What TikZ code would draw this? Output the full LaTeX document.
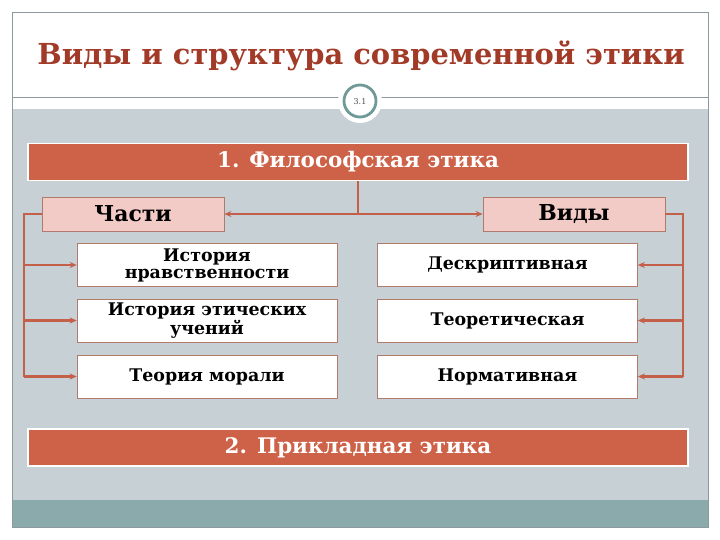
\documentclass[tikz,border=0pt]{standalone}
\usepackage{fontspec}
\setmainfont{DejaVu Serif}
\usetikzlibrary{arrows.meta}
\definecolor{titlec}{HTML}{A23A28}
\definecolor{bandc}{HTML}{CD6248}
\definecolor{bodyc}{HTML}{C6D0D5}
\definecolor{footc}{HTML}{8BAAAB}
\definecolor{pinkc}{HTML}{F2CAC6}
\definecolor{linec}{HTML}{C4604A}
\definecolor{framec}{HTML}{8C9A9E}
\definecolor{ringc}{HTML}{6F9A98}
\definecolor{boxline}{HTML}{B07A6C}
\begin{document}
\begin{tikzpicture}[x=1bp,y=-1bp,
  band/.style={rectangle, fill=bandc, draw=white, line width=1.5bp, minimum width=660bp, minimum height=37bp, text=white, inner sep=0pt, font=\bfseries\fontsize{21.5}{23}\selectfont},
  head/.style={rectangle, fill=pinkc, draw=boxline, line width=0.8bp, minimum width=182bp, minimum height=34bp, inner sep=0pt, font=\bfseries\fontsize{22}{24}\selectfont},
  item/.style={rectangle, fill=white, draw=boxline, line width=0.6bp, minimum width=260bp, minimum height=43bp, inner sep=0pt, align=center, font=\bfseries\fontsize{17.5}{17}\selectfont},
  conn/.style={draw=linec, line width=2.2bp},
  arr/.style={conn, -{Stealth[length=7bp,width=6bp]}}
]
\useasboundingbox (0,0) rectangle (720,540);
\fill[white] (0,0) rectangle (720,540);
\fill[bodyc] (12,109) rectangle (708,500);
\fill[footc] (12,500) rectangle (708,527);
\draw[framec, line width=0.8bp] (12,12) rectangle (708,527);
\draw[framec, line width=1bp] (12,98) -- (708,98);
\node[font=\bfseries\fontsize{29}{31}\selectfont, text=titlec] (title) at (361,56) {Виды и структура современной этики};
\fill[white] (360,101) circle (22);
\draw[ringc, line width=2.8bp] (360,101) circle (16);
\node[font=\fontsize{8}{8}\selectfont, text=black!70] (num) at (360,102) {3.1};
\node[band] (b1) at (358,162) {1. Философская этика};
\node[head] (chasti) at (133,214) {Части};
\node[head] (vidy) at (574,214) {Виды};
\node[item] (l1) at (207,265) {История\\нравственности};
\node[item] (l2) at (207,320.5) {История этических\\учений};
\node[item] (l3) at (207,376.5) {Теория морали};
\node[item] (r1) at (507.5,265) {Дескриптивная};
\node[item] (r2) at (507.5,320.5) {Теоретическая};
\node[item] (r3) at (507.5,376.5) {Нормативная};
\node[band] (b2) at (358,447.5) {2. Прикладная этика};
\coordinate (j) at (b1.south |- chasti.east);
\draw[conn] (b1.south) -- (j);
\draw[arr] (j) -- (chasti.east);
\draw[arr] (j) -- (vidy.west);
\coordinate (lx) at (24,214);
\coordinate (rx) at (683,214);
\draw[conn] (chasti.west) -- (lx) -- (lx |- l3.west);
\draw[arr] (lx |- l1.west) -- (l1.west);
\draw[arr] (lx |- l2.west) -- (l2.west);
\draw[arr] (lx |- l3.west) -- (l3.west);
\draw[conn] (vidy.east) -- (rx) -- (rx |- r3.east);
\draw[arr] (rx |- r1.east) -- (r1.east);
\draw[arr] (rx |- r2.east) -- (r2.east);
\draw[arr] (rx |- r3.east) -- (r3.east);
\end{tikzpicture}
\end{document}
